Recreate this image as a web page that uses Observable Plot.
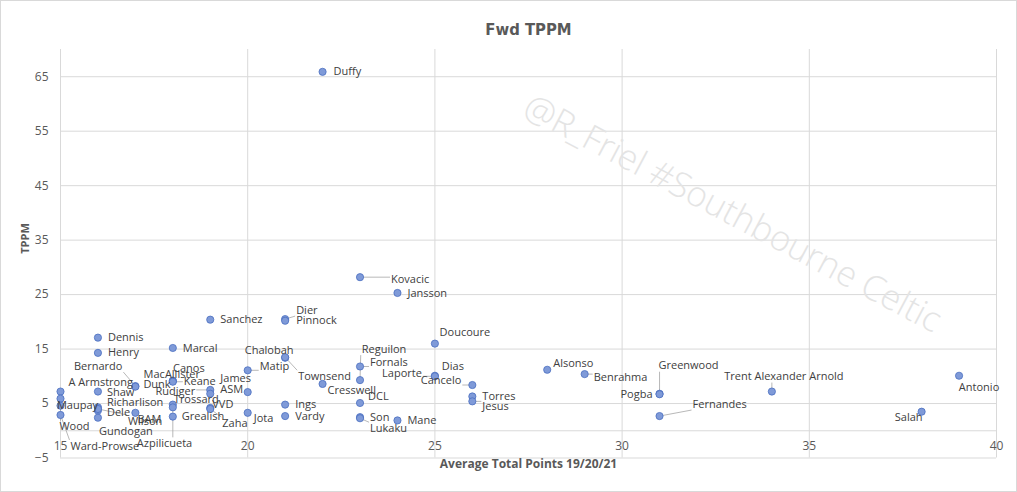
<!DOCTYPE html>
<html><head><meta charset="utf-8">
<script src="https://cdn.jsdelivr.net/npm/d3@7"></script>
<script src="https://cdn.jsdelivr.net/npm/@observablehq/plot@0.6"></script>
<style>
html,body{margin:0;padding:0;background:#fff;}
#chart{width:1017px;height:492px;overflow:hidden;}
</style></head><body><div id="chart"></div>
<script>
// ---- data ----
const names = ["Duffy","Kovacic","Jansson","Dier","Pinnock","Sanchez","Doucoure","Dennis","Henry","Marcal",
  "Chalobah","Townsend","Fornals","Reguilon","Matip","Dias","Laporte","Alsonso","Benrahma","Greenwood",
  "Pogba","Cancelo","Bernardo","Canos","MacAllister","A Armstrong","Dunk","Keane","James","Cresswell",
  "Trent Alexander Arnold","Antonio","Shaw","Rudiger","ASM","Torres","Jesus","Richarlison","Trossard","VVD",
  "Ings","DCL","Maupay","Dele","Fernandes","Salah","BAM","Wilson","Grealish","Zaha",
  "Jota","Vardy","Son","Mane","Lukaku","Gundogan","Wood","Ward-Prowse","Azpilicueta"];
const avgPoints = [22,23,24,21,21,19,25,16,16,18,
  21,21,23,23,20,25,25,28,29,31,
  31,26,17,18,18,15,17,18,20,22,
  34,39,16,19,19,26,26,16,18,19,
  21,23,15,16,31,38,17,16,18,19,
  20,21,23,24,23,16,15,15,18];
const tppm = [65.9,28.2,25.3,20.5,20.2,20.4,16.0,17.1,14.3,15.2,
  13.4,13.5,11.8,9.3,11.1,10.1,10.0,11.2,10.4,6.8,
  6.7,8.4,8.2,9.2,9.1,7.2,8.1,9.0,7.1,8.6,
  7.2,10.1,7.2,7.5,6.8,6.3,5.4,4.3,4.8,4.2,
  4.8,5.1,5.9,3.7,2.7,3.5,3.3,4.0,2.6,4.0,
  3.3,2.7,2.5,1.9,2.3,2.4,4.6,2.9,4.3];
const xTicks = [15,20,25,30,35,40];
const yTicks = [-5,5,15,25,35,45,55,65];

// ---- label layout (pixel offsets from the point: dx, dy, anchor s/m/e, leader line) ----
const labelPlacement = {
  "Duffy":[11,0,"s"],"Kovacic":[31,2,"s",1],"Jansson":[10,1,"s"],"Dier":[11,-9,"s",1],"Pinnock":[11,0,"s"],
  "Sanchez":[10,0,"s"],"Doucoure":[30,-11,"m"],"Dennis":[10,0,"s"],"Henry":[10,0,"s"],"Marcal":[10,0,"s"],
  "Chalobah":[-16,-7,"m"],"Townsend":[13,19,"s",1],"Fornals":[10,-4,"s",1],"Reguilon":[24,-31,"m",1],
  "Matip":[12,-4,"s",1],"Dias":[18,-9,"m"],"Laporte":[-13,-3,"e",1],"Alsonso":[6,-6,"s"],"Benrahma":[9,3,"s",1],
  "Greenwood":[29,-28,"m",1],"Pogba":[-7,0,"e"],"Cancelo":[-11,-5,"e",1],"Bernardo":[-13,-20,"e",1],
  "Canos":[16,-12,"m"],"MacAllister":[-1,-7,"m"],"A Armstrong":[8,-9,"s"],"Dunk":[8,-2,"s"],"Keane":[11,0,"s",1],
  "James":[-12,-14,"m"],"Cresswell":[5,7,"s"],"Trent Alexander Arnold":[12,-15,"m",1],"Antonio":[20,12,"m"],
  "Shaw":[9,1,"s"],"Rudiger":[-15,2,"e",1],"ASM":[10,-4,"s"],"Torres":[10,0,"s"],"Jesus":[10,5,"s",1],
  "Richarlison":[9,-5,"s"],"Trossard":[1,-5,"s"],"VVD":[2,-3,"s"],"Ings":[10,0,"s"],"DCL":[8,-7,"s"],
  "Maupay":[17,7,"m"],"Dele":[9,2,"s"],"Fernandes":[33,-12,"s",1],"Salah":[1,6,"e"],"BAM":[2,7,"s"],
  "Wilson":[30,12,"s",1],"Grealish":[9,0,"s"],"Zaha":[12,14,"s",1],"Jota":[6,6,"s"],"Vardy":[10,0,"s"],
  "Son":[10,0,"s"],"Mane":[10,0,"s"],"Lukaku":[10,10,"s",1],"Gundogan":[28,14,"m"],"Wood":[14,21,"m",1],
  "Ward-Prowse":[10,31,"s",1],"Azpilicueta":[-36,36,"s",1]
};

// ---- geometry ----
const W = 1017, H = 492, mL = 60, mR = 21, mT = 49, mB = 34.5;
const xDomain = [15, 40], yDomain = [-5, 70];
const xs = Plot.scale({x: {domain: xDomain, range: [mL, W - mR]}});
const ys = Plot.scale({y: {domain: yDomain, range: [H - mB, mT]}});

const FONT = '"Open Sans", "Noto Sans", sans-serif';
const LABEL_SIZE = 11;
const ctx = document.createElement("canvas").getContext("2d");
ctx.font = `${LABEL_SIZE}px "Open Sans"`;

const points = names.map((n, i) => ({name: n, x: avgPoints[i], y: tppm[i]}));
const labels = points.map(p => {
  const [dx, dy, a, lead] = labelPlacement[p.name] || [10, 0, "s"];
  const px = xs.apply(p.x), py = ys.apply(p.y);
  const lpx = px + dx, lpy = py + dy;
  const w = ctx.measureText(p.name).width;
  const left = a === "s" ? lpx : a === "m" ? lpx - w / 2 : lpx - w;
  const right = left + w, top = lpy - 5, bottom = lpy + 5;
  const nx = Math.max(left - 1, Math.min(right + 1, px));
  const ny = Math.max(top - 1, Math.min(bottom + 1, py));
  return {
    name: p.name, a, lead: !!lead,
    x: p.x, y: p.y,
    lx: xs.invert(lpx), ly: ys.invert(lpy),
    x2: xs.invert(nx), y2: ys.invert(ny)
  };
});
const leaders = labels.filter(d => d.lead);

const textOpts = {x: "lx", y: "ly", text: "name", fontSize: LABEL_SIZE, fill: "#404040", fontFamily: FONT};

const chart = Plot.plot({
  width: W, height: H,
  marginLeft: mL, marginRight: mR, marginTop: mT, marginBottom: mB,
  x: {domain: xDomain, axis: null},
  y: {domain: yDomain, axis: null},
  style: {fontFamily: FONT, background: "#fff", outline: "1px solid #d9d9d9", outlineOffset: "-1px"},
  marks: [
    Plot.gridY(yTicks, {stroke: "#d9d9d9", strokeOpacity: 1}),
    Plot.gridX(xTicks, {stroke: "#d9d9d9", strokeOpacity: 1}),
    Plot.ruleY([0], {stroke: "#d9d9d9"}),
    Plot.text(["@R_Friel #Southbourne Celtic"], {frameAnchor: "middle", dx: 204, dy: -40, rotate: 28,
      fontSize: 35, fontWeight: 300, fill: "#e4e4e4", fontFamily: FONT}),
    Plot.link(leaders, {x1: "x", y1: "y", x2: "x2", y2: "y2", stroke: "#a6a6a6", strokeWidth: 0.8}),
    Plot.dot(points, {x: "x", y: "y", r: 3.6, fill: "#7f9ad8", stroke: "#4a6fc0", strokeWidth: 0.8}),
    Plot.text(labels.filter(d => d.a === "s"), {...textOpts, textAnchor: "start"}),
    Plot.text(labels.filter(d => d.a === "m"), {...textOpts, textAnchor: "middle"}),
    Plot.text(labels.filter(d => d.a === "e"), {...textOpts, textAnchor: "end"}),
    Plot.axisY(yTicks, {tickSize: 0, tickPadding: 12, label: null, fontSize: 12, color: "#595959"}),
    Plot.text(xTicks, {x: d => d, y: 0, text: d => String(d), dy: 15, fontSize: 12, fill: "#595959"}),
    Plot.text(["Average Total Points 19/20/21"], {frameAnchor: "bottom", dy: 10, fontSize: 12,
      fontWeight: "bold", fill: "#595959"}),
    Plot.text(["TPPM"], {frameAnchor: "left", dx: -35, rotate: -90, fontSize: 11,
      fontWeight: "bold", fill: "#595959"}),
    Plot.text(["Fwd TPPM"], {frameAnchor: "top", dy: -26, fontSize: 16.5, fill: "#595959",
      fontFamily: '"Liberation Sans Narrow", "DejaVu Sans Condensed", Lato, sans-serif', fontWeight: "bold"})
  ]
});
document.getElementById("chart").appendChild(chart);
</script>
</body></html>
